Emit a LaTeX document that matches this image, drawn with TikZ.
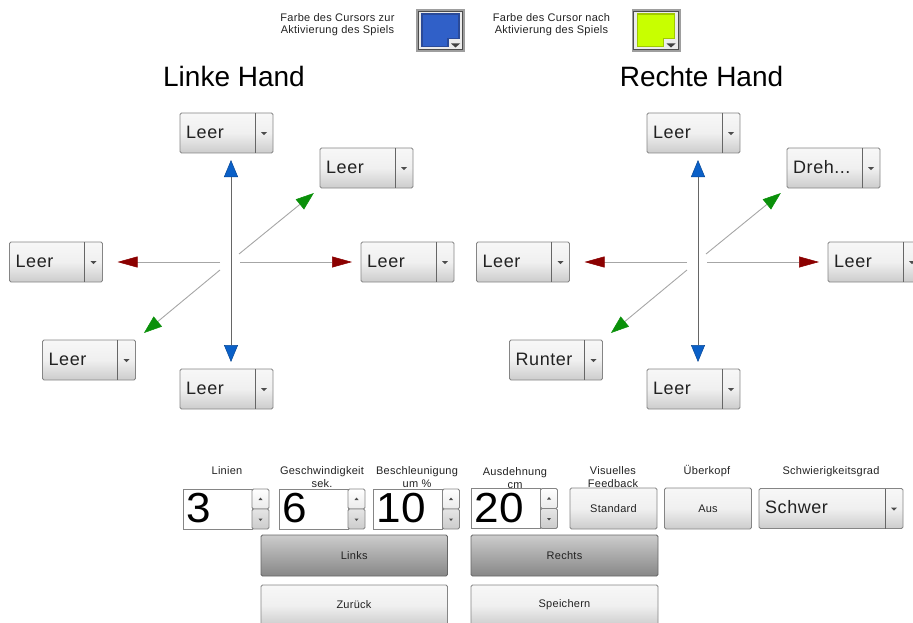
\documentclass[tikz,border=0pt]{standalone}
\usepackage{fontspec}
\setmainfont{Liberation Sans}
\newfontfamily\spacedsmall[LetterSpace=2.5]{Liberation Sans}
\newfontfamily\spacedmid[LetterSpace=3]{Liberation Sans}
\newfontfamily\widedigit[FakeStretch=1.05]{Liberation Sans}
\usetikzlibrary{arrows.meta,calc}
\definecolor{txt}{HTML}{222222}
\definecolor{edge}{HTML}{858585}
\definecolor{arrowblue}{HTML}{0A60C8}
\definecolor{arrowred}{HTML}{8B0000}
\definecolor{arrowgreen}{HTML}{0A900A}
\definecolor{cursorblue}{HTML}{3060C8}
\definecolor{cursorblueedge}{HTML}{2A4A98}
\definecolor{cursorlime}{HTML}{C8FF00}
\definecolor{cursorlimeedge}{HTML}{A0C800}
\tikzset{
  panel/.style={draw=edge,line width=0.9pt,rounded corners=1.5pt,outer sep=0pt,inner sep=0pt,minimum height=40pt,
    top color=white!97!black,bottom color=white!80!black,middle color=white!94!black},
  darkpanel/.style={panel,top color=white!80!black,middle color=white!70!black,bottom color=white!53!black,draw=white!40!black},
  field/.style={draw=edge,line width=0.8pt,fill=white,outer sep=0pt,inner sep=0pt,minimum height=40pt},
  smalltext/.style={font=\spacedsmall\fontsize{11}{12.5}\selectfont,text=txt,align=center,inner sep=0pt},
  btntext/.style={font=\spacedsmall\fontsize{11}{12}\selectfont,text=txt,inner sep=0pt},
  ddtext/.style={font=\spacedmid\fontsize{18}{20}\selectfont,text=txt,inner sep=0pt},
  digittext/.style={font=\widedigit\fontsize{42}{44}\selectfont,text=black,inner sep=0pt},
  titletext/.style={font=\fontsize{28}{30}\selectfont,text=black,inner sep=0pt},
  dirline/.style={draw=white!65!black,line width=0.9pt},
  bluearrow/.style={draw=white!40!black,line width=0.9pt,
    {Triangle[length=17pt,width=14pt,fill=arrowblue,color=arrowblue!75!black,line width=0.5pt]}-{Triangle[length=17pt,width=14pt,fill=arrowblue,color=arrowblue!75!black,line width=0.5pt]},shorten >=7pt,shorten <=7pt},
  redarrow/.style={dirline,-{Triangle[length=20pt,width=11pt,fill=arrowred,color=arrowred,line width=0.5pt]}},
  greenarrow/.style={dirline,-{Triangle[length=18pt,width=13pt,fill=arrowgreen,color=arrowgreen,line width=0.5pt]}},
  tipmark/.style={fill=white!30!black,draw=none}
}
% name, x, y, width, text
\newcommand{\ddbox}[5]{%
  \node[panel,minimum width=#4pt,anchor=north west] (#1) at (#2,#3) {};
  \draw[draw=white!40!black,line width=0.8pt] ([xshift=-18pt]#1.north east) -- ([xshift=-18pt]#1.south east);
  \fill[tipmark] ($(#1.east)+(-12pt,0.8pt)$) -- ++(6pt,0) -- ++(-3pt,-3pt) -- cycle;
  \node[ddtext,anchor=west] (#1t) at ([xshift=6pt,yshift=1pt]#1.west) {#5};
}
% prefix, x shift, upper-right text, lower-left text
\newcommand{\handgroup}[4]{%
  \begin{scope}[xshift=#2pt]
    \ddbox{#1top}{180}{113}{93}{Leer}
    \ddbox{#1ur}{320}{148}{93}{#3}
    \ddbox{#1right}{361}{242}{93}{Leer}
    \ddbox{#1left}{9.5}{242}{93}{Leer}
    \ddbox{#1ll}{42.5}{340}{93}{#4}
    \ddbox{#1bot}{180}{369}{93}{Leer}
    \coordinate (#1axis) at (231,262);
    \coordinate (#1W) at (220,262);
    \coordinate (#1E) at (240,262);
    \coordinate (#1NE) at (239,254);
    \coordinate (#1SW) at (220,270);
    \draw[bluearrow] (#1top.south -| #1axis) -- (#1bot.north -| #1axis);
    \draw[redarrow,shorten >=15pt] (#1W) -- (#1left.east);
    \draw[redarrow,shorten >=9pt] (#1E) -- (#1right.west);
    \draw[greenarrow,shorten >=8pt] (#1NE) -- (#1ur.south west);
    \draw[greenarrow,shorten >=11pt] (#1SW) -- (#1ll.north east);
  \end{scope}
}
% name, x, y, digit
\newcommand{\spinbox}[4]{%
  \node[field,minimum width=69pt,anchor=north west] (#1) at (#2,#3) {};
  \node[digittext,anchor=west] (#1t) at ([xshift=3pt,yshift=0.5pt]#1.west) {#4};
  \node[panel,minimum width=17pt,minimum height=20pt,anchor=north west,top color=white,middle color=white!97!black,bottom color=white!92!black] (#1u) at (#1.north east) {};
  \node[panel,minimum width=17pt,minimum height=20pt,anchor=north west,top color=white!90!black,middle color=white!86!black,bottom color=white!80!black] (#1d) at (#1u.south west) {};
  \fill[tipmark] ($(#1u.center)+(-2pt,-1pt)$) -- ++(4pt,0) -- ++(-2pt,2.5pt) -- cycle;
  \fill[tipmark] ($(#1d.center)+(-2pt,0.5pt)$) -- ++(4pt,0) -- ++(-2pt,-2.5pt) -- cycle;
}
% name, x, fill colour, border colour
\newcommand{\swatch}[4]{%
  \node[draw=white!62!black,line width=2pt,fill=white!92!black,outer sep=0pt,inner sep=0pt,minimum width=47pt,minimum height=41pt,anchor=north west] (#1) at (#2,10) {};
  \draw[draw=white!30!black,line width=0.8pt] ($(#1.south west)+(1.2pt,1.2pt)$) rectangle ($(#1.north east)+(-1.2pt,-1.2pt)$);
  \draw[draw=#4,fill=#3,line width=1.1pt] ($(#1.north west)+(5pt,-4pt)$) -- ($(#1.north east)+(-5pt,-4pt)$) -- ++(0,-24.5pt) -- ++(-11pt,0) -- ++(0,-8pt) -- ($(#1.south west)+(5pt,4.5pt)$) -- cycle;
  \fill[white!25!black] ($(#1.south east)+(-13pt,7.5pt)$) -- ++(9pt,0) -- ++(-4.5pt,-4pt) -- cycle;
}
\begin{document}
\begin{tikzpicture}[x=1pt,y=-1pt]
  \useasboundingbox (0,0) rectangle (913,623);
  \clip (0,0) rectangle (913,623);

  \node[smalltext] (farbea) at (337.5,24.5) {Farbe des Cursors zur\\Aktivierung des Spiels};
  \swatch{swa}{417}{cursorblue}{cursorblueedge}
  \node[smalltext] (farbeb) at (551.5,24.5) {Farbe des Cursor nach\\Aktivierung des Spiels};
  \swatch{swb}{632.5}{cursorlime}{cursorlimeedge}

  \node[titletext] (linke) at (234,76) {Linke Hand};
  \node[titletext] (rechte) at (701.5,76) {Rechte Hand};

  \handgroup{l}{0}{Leer}{Leer}
  \handgroup{r}{467}{Dreh...}{Runter}

  \node[smalltext] (capa) at (227,471) {Linien};
  \node[smalltext,anchor=north] (capb) at (322,466.5) {Geschwindigkeit\\sek.};
  \node[smalltext,anchor=north] (capc) at (417,466.5) {Beschleunigung\\um \%};
  \node[smalltext,anchor=north] (capd) at (515,467.5) {Ausdehnung\\cm};
  \node[smalltext,anchor=north] (cape) at (613,466.5) {Visuelles\\Feedback};
  \node[smalltext] (capf) at (707,471) {Überkopf};
  \node[smalltext] (capg) at (831,472) {Schwierigkeitsgrad};

  \spinbox{spa}{183}{489}{3}
  \spinbox{spb}{279}{489}{6}
  \spinbox{spc}{373.5}{489}{10}
  \spinbox{spd}{471.5}{488.5}{20}

  \node[panel,minimum width=87pt,minimum height=41pt,anchor=north west] (std) at (570,488) {};
  \node[btntext] (stdt) at (std.center) {Standard};
  \node[panel,minimum width=87pt,minimum height=41pt,anchor=north west] (aus) at (664.5,488) {};
  \node[btntext] (aust) at (aus.center) {Aus};
  \ddbox{diff}{759}{488.5}{144}{Schwer}

  \node[darkpanel,minimum width=186.5pt,minimum height=41pt,anchor=north west] (links) at (261,535) {};
  \node[btntext] (linkst) at (links.center) {Links};
  \node[darkpanel,minimum width=187pt,minimum height=41pt,anchor=north west] (rechts) at (471,535) {};
  \node[btntext] (rechtst) at (rechts.center) {Rechts};
  \node[panel,minimum width=186.5pt,minimum height=41pt,anchor=north west] (zur) at (261,585) {};
  \node[btntext] (zurt) at (354,605) {Zurück};
  \node[panel,minimum width=187pt,minimum height=41pt,anchor=north west] (spei) at (471,585) {};
  \node[btntext] (speit) at (564.5,605) {Speichern};
\end{tikzpicture}
\end{document}
